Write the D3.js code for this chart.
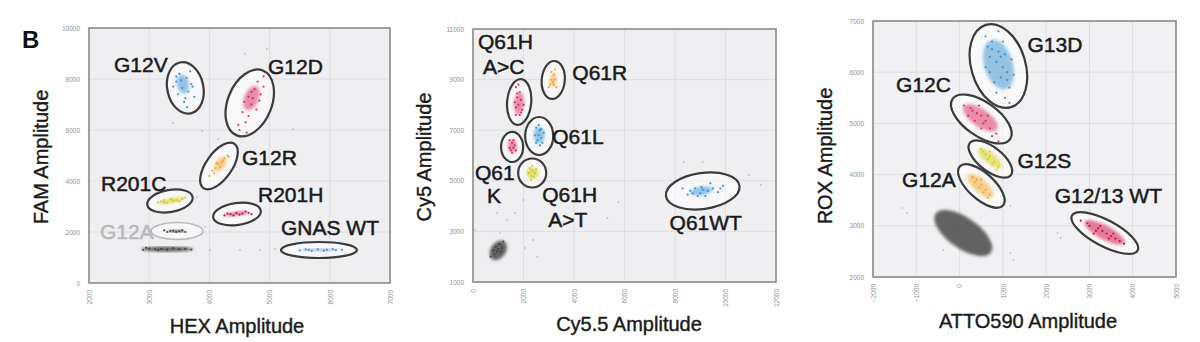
<!DOCTYPE html>
<html><head><meta charset="utf-8">
<script src="https://cdn.jsdelivr.net/npm/d3@7"></script>
<style>body{margin:0;background:#fff}svg{display:block}</style>
</head><body>
<svg id="c" width="1200" height="342"></svg>
<script>
// ---------- tick labels ----------
const p1XTicks=[2000,3000,4000,5000,6000,7000];
const p1YTicks=[0,2000,4000,6000,8000,10000];
const p2XTicks=[0,2000,4000,6000,8000,10000,12000];
const p2YTicks=[1000,3000,5000,7000,9000,11000];
const p3XTicks=[-2000,-1000,0,1000,2000,3000,4000,5000];
const p3YTicks=[2000,3000,4000,5000,6000,7000];
const axisTitles=[["HEX Amplitude","FAM Amplitude"],["Cy5.5 Amplitude","Cy5 Amplitude"],["ATTO590 Amplitude","ROX Amplitude"]];

// ---------- gates: [name, cx, cy, rx, ry, tilt] ----------
const p1Gates=[["G12V",3600,7650,300,1020,-12],["G12D",4670,7060,365,1370,22],["G12R",4159,4589,216,1060,35],
  ["R201C",3345,3216,382,431,-10],["R201H",4458,2706,399,431,-8],["GNAS WT",5820,1294,631,314,0],["G12A",3462,2039,432,333,0]];
const p2Gates=[["Q61H A>C",1828,8115,477,909,5],["Q61R",3178,8985,457,751,5],["Q61L",2622,6771,556,751,0],
  ["Q61K",1549,6337,437,593,0],["Q61H A>T",2344,5309,556,573,0],["Q61WT",9098,4597,1470,712,-8]];
const p3Gates=[["G13D",897,6121,626,840,-17],["G12C",503,5086,811,332,35],["G12S",712,4305,603,234,38],
  ["G12A",503,3777,672,254,42],["G12/13 WT",3355,2859,858,254,28]];

// ---------- dense cores: [cluster, cx, cy, sx, sy, tilt] ----------
const p1Cores=[["G12V",3560,7800,100,380,-12],["G12D",4700,7250,120,500,22],["G12R",4180,4650,80,330,35],
  ["R201C",3380,3230,230,100,-10],["R201H",4450,2720,200,80,-8],["GNAS WT",5820,1300,330,50,0],
  ["neg",3300,1330,430,100,0],["G12Aneg",3450,2030,150,50,0]];
const p2Cores=[["Q61H A>C",1820,8050,200,450,5],["Q61R",3180,9000,140,260,5],["Q61L",2620,6800,220,330,0],
  ["Q61K",1560,6380,180,260,0],["Q61H A>T",2360,5300,250,230,0],["Q61WT",9050,4600,450,170,-8],["neg",1000,2250,300,420,35]];
const p3Cores=[["G13D",900,6150,330,500,-17],["G12C",480,5110,470,170,35],["G12S",700,4320,340,110,38],
  ["G12A",480,3780,380,130,42],["G12/13 WT",3350,2870,520,140,28],["neg",86,2859,780,300,35]];

// ---------- droplets: [cluster, x, y] ----------
const p1Points=[
 ...[[3500,8200],[3620,8050],[3450,7900],[3700,7800],[3550,7650],[3650,7500],[3400,7700],[3750,7300],[3580,7100],[3480,7400],[3680,8300],[3530,7950],[3600,7250],[3720,7700],[3450,8100],[3630,6900]].map(d=>["G12V",...d]),
 ...[[4750,7600],[4800,7900],[4650,7300],[4700,7000],[4550,6700],[4850,7400],[4600,6300],[4500,6000],[4780,6800],[4900,8100],[4650,6550],[4720,7250],[4580,7100],[4830,7150],[4480,6200],[4700,7500],[4620,5900],[4900,7700]].map(d=>["G12D",...d]),
 ...[[4250,4900],[4300,5000],[4150,4650],[4200,4750],[4050,4400],[4100,4500],[4000,4200],[4180,4550],[4320,4950],[4080,4300],[4230,4800],[4120,4700]].map(d=>["G12R",...d]),
 ...[[3150,3150],[3250,3250],[3350,3300],[3450,3250],[3550,3300],[3300,3150],[3400,3200],[3200,3200],[3500,3200],[3600,3350],[3250,3150],[3380,3270]].map(d=>["R201C",...d]),
 ...[[4250,2650],[4350,2700],[4450,2750],[4550,2720],[4650,2750],[4400,2650],[4500,2680],[4600,2800],[4300,2720],[4700,2700]].map(d=>["R201H",...d]),
 ...[[5500,1280],[5650,1300],[5800,1320],[5950,1300],[6100,1290],[5700,1260],[5900,1270],[6050,1330],[5600,1320],[6200,1300]].map(d=>["GNAS WT",...d]),
 ...[[3300,2000],[3400,2050],[3500,2030],[3550,2060],[3350,2040],[3450,2000],[3600,2000],[3250,2060]].map(d=>["neg",...d]),
 ...[[2900,1300],[3000,1350],[3100,1320],[3200,1340],[3300,1300],[3400,1360],[3500,1320],[3600,1340],[3700,1310],[2950,1380],[3150,1280]].map(d=>["neg",...d]),
 ...[[4591,8981],[4957,9177],[3395,6275],[3877,5961],[5389,6040],[4143,5647],[4010,1294],[4508,1294],[4840,1294],[5090,1333],[3927,2196],[3794,3373]].map(d=>["stray",...d])
];
const p2Points=[
 ...[[1700,8700],[1850,8500],[1750,8300],[1900,8200],[1800,8000],[1700,7900],[1950,7800],[1850,7600],[1750,8450],[2000,8000],[1650,8100],[1900,7700],[1800,8800],[1700,7600]].map(d=>["Q61H A>C",...d]),
 ...[[3100,9300],[3200,9200],[3250,9000],[3150,8900],[3050,8800],[3300,8700],[3200,8800],[3100,9000],[3000,8700],[3250,9400]].map(d=>["Q61R",...d]),
 ...[[2500,7100],[2650,7000],[2600,6800],[2700,6700],[2550,6600],[2800,6900],[2450,6800],[2650,6400],[2750,6500],[2600,7200],[2500,6500],[2700,7050]].map(d=>["Q61L",...d]),
 ...[[1450,6600],[1550,6500],[1600,6300],[1500,6200],[1650,6400],[1450,6300],[1550,6100],[1700,6200],[1600,6600]].map(d=>["Q61K",...d]),
 ...[[2250,5500],[2350,5400],[2450,5300],[2300,5200],[2400,5150],[2200,5300],[2350,5600],[2500,5450],[2300,5050]].map(d=>["Q61H A>T",...d]),
 ...[[8300,4700],[8600,4600],[8800,4700],[9000,4500],[9100,4650],[9300,4600],[9500,4700],[9700,4550],[9900,4800],[8900,4400],[9200,4400],[8700,4500],[9400,4900],[8500,4450],[9800,4700],[9050,4750]].map(d=>["Q61WT",...d]),
 ...[[900,2400],[1000,2300],[1100,2200],[850,2100],[1050,2500],[950,2200],[1150,2350],[800,2250],[1200,2600],[700,2000]].map(d=>["neg",...d]),
 ...[[1669,3727],[1351,3451],[1073,2937],[2384,2660],[2543,1988],[2066,2344],[5324,3530],[5761,4162],[8343,5744],[9098,5744],[10926,5230],[11402,4834],[79,3056],[953,3727],[1987,4241]].map(d=>["stray",...d])
];
const p3Points=[
 ...[[600,6700],[750,6600],[900,6400],[700,6300],[850,6200],[1000,6100],[1100,6000],[950,5900],[800,5800],[1150,5700],[1050,5500],[650,6500],[1200,6250],[900,6800],[1000,6600],[700,6000],[1100,5850],[850,5600],[750,6450],[1250,5950],[950,6300],[1050,6350],[600,6100],[1150,5400]].map(d=>["G13D",...d]),
 ...[[100,5350],[250,5300],[400,5200],[500,5150],[600,5050],[700,4900],[850,4800],[350,5050],[550,5000],[200,5150],[450,5350],[650,5150],[750,4750],[300,5250],[900,4650],[500,4900]].map(d=>["G12C",...d]),
 ...[[500,4500],[600,4400],[700,4350],[800,4250],[900,4150],[650,4300],[750,4200],[550,4450],[850,4100],[700,4450]].map(d=>["G12S",...d]),
 ...[[300,3950],[400,3900],[500,3800],[600,3700],[700,3600],[450,3750],[550,3650],[350,3850],[650,3550],[500,3900]].map(d=>["G12A",...d]),
 ...[[2800,3100],[3000,3000],[3200,2950],[3400,2850],[3600,2750],[3800,2650],[3100,2850],[3300,2900],[3500,2800],[2950,3050],[3700,2700],[3250,3000],[3450,2750],[3150,2900],[3550,2850]].map(d=>["G12/13 WT",...d]),
 ...[[-1328,3348],[-1212,3250],[-377,2527],[1176,2469],[1245,2332],[2265,2859],[2335,2762],[1176,3387]].map(d=>["stray",...d])
];

// ---------- cluster labels: [text, x, y, muted] ----------
const p1Labels=[["G12V",2415,8275,0],["G12D",4973,8197,0],["G12R",4541,4628,0],["R201C",2199,3608,0],["R201H",4807,3177,0],["GNAS WT",5189,1883,0],["G12A",2183,1726,1]];
const p2Labels=[["Q61H",199,10210,0],["A>C",397,9222,0],["Q61R",3933,8985,0],["Q61L",3139,6455,0],["Q61",79,5032,0],["K",556,4123,0],["Q61H",2741,4162,0],["A>T",2980,3174,0],["Q61WT",7787,3056,0]];
const p3Labels=[["G13D",1570,6394,0],["G12C",-1467,5613,0],["G12S",1338,4129,0],["G12A",-1328,3758,0],["G12/13 WT",2196,3445,0]];

// ---------- colours ----------
const BLUE="#2f8dd0",CRIM="#d8245a",ORNG="#f2a31e",YELL="#cdcc0a",RED="#cc0838",NEG="#3e3e3e";
const col1={"G12V":BLUE,"G12D":CRIM,"G12R":ORNG,"R201C":YELL,"R201H":RED,"GNAS WT":BLUE,"neg":NEG,"G12Aneg":NEG,"stray":"#888"};
const col2={"Q61H A>C":CRIM,"Q61R":ORNG,"Q61L":BLUE,"Q61K":CRIM,"Q61H A>T":YELL,"Q61WT":BLUE,"neg":NEG,"stray":"#888"};
const col3={"G13D":BLUE,"G12C":CRIM,"G12S":YELL,"G12A":ORNG,"G12/13 WT":RED,"neg":NEG,"stray":"#888"};

const svg=d3.select("#c");
const defs=svg.append("defs");
defs.append("filter").attr("id","blur").append("feGaussianBlur").attr("stdDeviation",1.6);
defs.append("filter").attr("id","blur2").append("feGaussianBlur").attr("stdDeviation",0.4);

const FONT="Liberation Sans, Arial, sans-serif";
svg.append("text").attr("x",22).attr("y",48).attr("font-family",FONT)
  .attr("font-weight","bold").attr("font-size",24).attr("fill","#111").text("B");

const panels=[
 {box:[89,390,28,283],xt:p1XTicks,yt:p1YTicks,gates:p1Gates,cores:p1Cores,pts:p1Points,labels:p1Labels,col:col1,titles:axisTitles[0],xtx:237,xty:333,ytx:48,yty:157,muted:"G12A"},
 {box:[473,776,29,282],xt:p2XTicks,yt:p2YTicks,gates:p2Gates,cores:p2Cores,pts:p2Points,labels:p2Labels,col:col2,titles:axisTitles[1],xtx:629,xty:331,ytx:431,yty:157},
 {box:[873,1176,21,277],xt:p3XTicks,yt:p3YTicks,gates:p3Gates,cores:p3Cores,pts:p3Points,labels:p3Labels,col:col3,titles:axisTitles[2],xtx:1028,xty:328,ytx:832,yty:156}
];

panels.forEach((P,i)=>{
  const [L,R,T,B]=P.box;
  const x=d3.scaleLinear().domain(d3.extent(P.xt)).range([L,R]);
  const y=d3.scaleLinear().domain(d3.extent(P.yt)).range([B,T]);
  const g=svg.append("g");
  g.append("rect").attr("x",L).attr("y",T).attr("width",R-L).attr("height",B-T).attr("fill",i==2?"#f1f1f4":"#efeef1");
  // grid
  g.append("g").selectAll("line").data(P.xt).join("line").attr("x1",d=>x(d)).attr("x2",d=>x(d)).attr("y1",T).attr("y2",B)
    .attr("stroke","#dedde2").attr("stroke-width",1);
  g.append("g").selectAll("line").data(P.yt).join("line").attr("y1",d=>y(d)).attr("y2",d=>y(d)).attr("x1",L).attr("x2",R)
    .attr("stroke","#dedde2").attr("stroke-width",1);
  // axes
  const ax=d3.axisBottom(x).tickValues(P.xt).tickSize(0).tickPadding(0).tickFormat(d3.format("d"));
  const xa=g.append("g").attr("transform",`translate(0,${B})`).call(ax);
  xa.select(".domain").remove();
  xa.selectAll("text").attr("transform","translate(0,7) rotate(-90)").attr("text-anchor","end").attr("dy","0.35em").attr("y",0)
    .attr("font-size",6.5).attr("fill","#8f8f8f").attr("font-family",FONT);
  const ay=d3.axisLeft(y).tickValues(P.yt).tickSize(0).tickPadding(9).tickFormat(d3.format("d"));
  const ya=g.append("g").attr("transform",`translate(${L},0)`).call(ay);
  ya.select(".domain").remove();
  ya.selectAll("text").attr("font-size",6.5).attr("fill","#8f8f8f").attr("font-family",FONT);
  // clip
  const cid="clip"+i;
  defs.append("clipPath").attr("id",cid).append("rect").attr("x",L).attr("y",T).attr("width",R-L).attr("height",B-T);
  const inner=g.append("g").attr("clip-path",`url(#${cid})`);
  const gateSel=(sel)=>sel.attr("transform",d=>`translate(${x(d[1])},${y(d[2])}) rotate(${d[5]})`)
     .attr("rx",d=>Math.abs(x(d[1]+d[3])-x(d[1]))).attr("ry",d=>Math.abs(y(d[2]+d[4])-y(d[2])));
  inner.append("g").selectAll("ellipse").data(P.gates).join("ellipse").call(gateSel)
     .attr("fill","#ffffff").attr("fill-opacity",0.55).attr("stroke","none");
  // cores
  inner.append("g").selectAll("ellipse").data(P.cores).join("ellipse")
     .attr("transform",d=>`translate(${x(d[1])},${y(d[2])}) rotate(${d[5]})`)
     .attr("rx",d=>Math.abs(x(d[1]+d[3])-x(d[1]))).attr("ry",d=>Math.abs(y(d[2]+d[4])-y(d[2])))
     .attr("fill",d=>P.col[d[0]]).attr("fill-opacity",d=>d[0]==="neg"||d[0]==="G12Aneg"?0.8:0.5).attr("filter","url(#blur)");
  // points
  inner.append("g").selectAll("circle").data(P.pts).join("circle")
     .attr("cx",d=>x(d[1])).attr("cy",d=>y(d[2])).attr("r",d=>d[0]==="stray"?0.8:1.1)
     .attr("fill",d=>P.col[d[0]]).attr("fill-opacity",d=>d[0]==="stray"?0.7:0.9).attr("filter","url(#blur2)");
  // gate outlines
  inner.append("g").selectAll("ellipse").data(P.gates).join("ellipse").call(gateSel)
     .attr("fill","none").attr("stroke",d=>d[0]===P.muted?"#b9b9bc":"#3b3b3b").attr("stroke-width",d=>d[0]===P.muted?1.6:2.2);
  // border
  g.append("rect").attr("x",L).attr("y",T).attr("width",R-L).attr("height",B-T).attr("fill","none").attr("stroke","#8d8d8d").attr("stroke-width",1.6);
  // labels
  g.append("g").selectAll("text").data(P.labels).join("text").attr("x",d=>x(d[1])).attr("y",d=>y(d[2]))
    .attr("font-family",FONT).attr("font-size",21).attr("fill",d=>d[3]?"#b8b8bb":"#1a1a1a")
    .attr("stroke",d=>d[3]?"#b8b8bb":"#1a1a1a").attr("stroke-width",0.5).text(d=>d[0]);
  // titles
  g.append("text").attr("x",P.xtx).attr("y",P.xty).attr("text-anchor","middle").attr("font-family",FONT).attr("font-size",20)
    .attr("fill","#1a1a1a").attr("stroke","#1a1a1a").attr("stroke-width",0.4).text(P.titles[0]);
  g.append("text").attr("transform",`translate(${P.ytx},${P.yty}) rotate(-90)`).attr("text-anchor","middle").attr("font-family",FONT).attr("font-size",20)
    .attr("fill","#1a1a1a").attr("stroke","#1a1a1a").attr("stroke-width",0.4).text(P.titles[1]);
});
</script>
</body></html>
